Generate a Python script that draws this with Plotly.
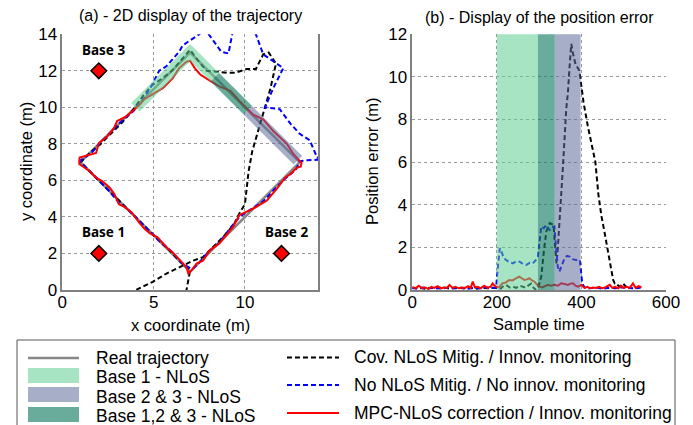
import plotly.graph_objects as go

# ---------------- data: (a) 2D trajectory ----------------
real_x = [7, 1, 7, 13, 7]
real_y = [1, 7, 13, 7, 1]

mpc_x = [7.1, 6.9, 6.8, 6.4, 6.05, 5.8, 5.5, 5.2, 4.8, 4.5, 4.2, 3.8, 3.4, 3.1, 2.85, 2.6, 2.2, 1.85, 1.5, 1.3, 0.93, 0.93,
         0.95, 1.3, 1.85, 2.0, 2.5, 2.85, 3.0, 3.5, 3.85, 4.2, 4.5, 4.95, 5.5, 6.05, 6.4, 6.8, 7.0,
         7.25, 7.55, 8.1, 8.6, 9.2, 9.7, 10.45, 11.0, 11.55, 12.3, 12.65, 12.9, 13.1, 13.05,
         12.85, 12.5, 12.2, 11.75, 11.2, 10.45, 9.7, 9.35, 8.6, 8.1, 7.7, 7.35, 7.1]
mpc_y = [1.1, 0.9, 1.25, 1.7, 2.05, 2.25, 2.55, 2.9, 3.1, 3.35, 3.7, 4.25, 4.55, 4.7, 5.25, 5.6, 5.95, 6.15, 6.5, 6.65, 6.9, 7.08,
         7.25, 7.35, 7.5, 8.05, 8.45, 8.9, 9.25, 9.5, 9.8, 10.1, 10.45, 10.7, 11.05, 11.6, 12.15, 12.5, 12.55,
         12.15, 11.8, 11.45, 11.15, 10.9, 10.35, 9.6, 9.35, 8.7, 8.0, 7.45, 7.2, 6.95, 6.75,
         6.7, 6.35, 6.15, 5.55, 4.9, 4.45, 4.1, 3.45, 2.55, 2.2, 1.6, 1.45, 1.1]

nomit_x = [7.0, 6.5, 6.0, 5.4, 4.9, 4.3, 3.7, 3.0, 2.4, 1.8, 1.2, 1.0, 1.6, 2.1, 2.7, 3.3, 3.9, 4.4, 4.9, 5.3, 5.7,
           6.4, 6.6, 7.5, 7.8, 8.7, 9.1, 9.3, 9.5, 10.4, 10.6, 11.0, 12.1, 11.55, 11.1, 11.9, 12.5, 13.0, 13.55,
           13.95, 14.4, 14.4, 13.4, 13.0, 12.8, 12.2, 11.6, 11.0, 10.3, 9.7, 9.2, 8.6, 8.0, 7.5, 7.1]
nomit_y = [1.2, 1.5, 2.1, 2.6, 3.1, 3.7, 4.3, 4.9, 5.6, 6.2, 6.8, 7.1, 7.5, 8.1, 8.7, 9.3, 9.8, 10.4, 11.2, 12.0, 12.25,
           13.05, 13.4, 14.0, 14.3, 13.05, 12.95, 14.0, 14.4, 14.4, 14.0, 12.9, 12.15, 11.05, 10.0, 9.9, 9.1, 8.55, 8.2,
           7.25, 7.25, 7.15, 7.1, 7.05, 6.6, 6.1, 5.5, 4.85, 4.4, 4.0, 3.4, 2.6, 2.1, 1.5, 1.1]

cov_x = [6.8, 6.8, 6.9, 7.0, 6.4, 5.8, 5.1, 4.5, 3.9, 3.3, 2.6, 2.0, 1.4, 1.0, 1.5, 2.1, 2.7, 3.3, 3.9, 4.4, 4.9,
         5.5, 6.0, 6.5, 7.0, 7.4, 7.9, 8.5, 9.0, 9.5, 10.1, 10.6, 11.0, 11.3, 11.7, 11.4, 11.2, 10.8, 10.4, 10.2,
         10.1, 10.0, 9.7, 9.4, 8.8, 8.25, 7.7, 7.15, 6.4, 5.7, 4.95, 4.0, 3.0]
cov_y = [-1.0, 0.0, 0.55, 1.1, 1.6, 2.25, 2.9, 3.5, 4.1, 4.7, 5.4, 6.0, 6.6, 7.0, 7.5, 8.0, 8.6, 9.2, 9.9, 10.6, 11.2,
         11.6, 12.0, 12.6, 13.15, 12.6, 12.0, 11.95, 11.9, 11.9, 12.1, 12.1, 12.9, 13.0, 12.4, 11.05, 10.35, 8.9, 7.6, 6.5,
         5.45, 4.7, 4.2, 3.6, 2.9, 2.35, 1.8, 1.6, 1.25, 0.9, 0.45, 0.0, -0.5]

band1_x = [4.0, 7.0, 8.35]
band1_y = [10.0, 13.0, 11.65]
band123_x = [8.35, 10.15]
band123_y = [11.65, 9.85]
band23_x = [10.15, 12.9]
band23_y = [9.85, 7.1]

bases_x = [2, 12, 2]
bases_y = [2, 2, 12]
bases_txt = ["Base 1", "Base 2", "Base 3"]

# ---------------- data: (b) position error ----------------
mpc_t = [0, 8, 15, 22, 30, 38, 45, 52, 60, 68, 75, 82, 88, 95, 102, 110, 118, 125, 132, 138, 143, 148, 155, 162,
         170, 178, 185, 190, 197, 205, 213, 221, 229, 237, 245, 253, 259, 265, 271, 277, 283, 289, 295, 301, 307,
         313, 321, 328, 336, 344, 352, 360, 368, 374, 380, 386, 392, 400, 407, 414, 421, 428, 435, 442, 449, 456,
         462, 467, 473, 480, 487, 494, 500, 507, 514, 522, 528, 535, 542]
mpc_e = [0.15, 0.08, 0.2, 0.1, 0.12, 0.05, 0.15, 0.1, 0.18, 0.08, 0.12, 0.1, 0.24, 0.1, 0.15, 0.08, 0.12, 0.1, 0.18,
         0.1, 0.39, 0.12, 0.15, 0.08, 0.2, 0.1, 0.15, 0.31, 0.16, 0.12, 0.31, 0.35, 0.47, 0.45, 0.55, 0.63, 0.55,
         0.47, 0.5, 0.55, 0.45, 0.39, 0.25, 0.16, 0.12, 0.16, 0.24, 0.2, 0.24, 0.2, 0.31, 0.28, 0.24, 0.3, 0.31,
         0.2, 0.16, 0.24, 0.1, 0.15, 0.08, 0.12, 0.1, 0.15, 0.08, 0.12, 0.18, 0.24, 0.1, 0.15, 0.08, 0.2, 0.1,
         0.15, 0.1, 0.31, 0.1, 0.18, 0.12]

nomit_t = [0, 12, 25, 40, 55, 70, 85, 100, 115, 130, 145, 160, 175, 190, 198, 203, 207, 212, 216, 222, 230, 238,
           246, 254, 262, 270, 278, 285, 292, 297, 301, 305, 311, 317, 321, 325, 330, 336, 340, 344, 348, 354, 360,
           366, 372, 378, 384, 390, 396, 399, 402, 408, 420, 435, 450, 465, 480, 495, 510, 525, 540]
nomit_e = [0.1, 0.05, 0.12, 0.08, 0.1, 0.06, 0.12, 0.08, 0.1, 0.05, 0.1, 0.08, 0.12, 0.1, 0.1, 1.2, 1.96, 1.75, 1.5,
           1.41, 1.3, 1.25, 1.35, 1.33, 1.22, 1.18, 1.28, 1.25, 1.4, 1.57, 2.2, 2.98, 2.9, 3.06, 2.9, 2.82, 2.95,
           2.98, 2.0, 1.1, 0.86, 1.2, 1.49, 1.6, 1.57, 1.45, 1.41, 1.4, 1.41, 0.9, 0.3, 0.1, 0.08, 0.12, 0.06, 0.1,
           0.08, 0.12, 0.1, 0.08, 0.1]

cov_t = [0, 15, 30, 45, 60, 75, 90, 105, 120, 135, 150, 165, 180, 195, 205, 210, 216, 222, 230, 238, 246, 254, 261,
         268, 275, 281, 287, 293, 299, 305, 311, 317, 325, 334, 338, 341, 344, 350, 356, 364, 368, 372, 376, 380,
         386, 395, 405, 415, 425, 433, 440, 447, 455, 461, 467, 471, 475, 479, 483, 487, 491, 495, 499, 503, 507, 511]
cov_e = [0.08, 0.1, 0.06, 0.1, 0.08, 0.12, 0.06, 0.1, 0.08, 0.1, 0.06, 0.1, 0.08, 0.1, 0.05, 0.08, 0.2, 0.24, 0.12,
         0.16, 0.1, 0.2, 0.16, 0.1, 0.22, 0.3, 0.1, 0.0, 0.2, 0.63, 1.8, 2.75, 3.14, 3.06, 2.0, 1.25, 1.9, 3.6,
         5.7, 8.47, 9.25, 10.5, 11.55, 11.1, 10.6, 10.3, 8.8, 7.7, 6.8, 6.0, 4.5, 3.5, 2.67, 2.0, 1.41, 0.9, 0.47,
         0.3, 0.3, 0.2, 0.16, 0.25, 0.3, 0.2, 0.16, 0.1]

nlos_b1 = [200, 297]
nlos_b123 = [297, 337]
nlos_b23 = [337, 398]

x_ticks_a = [0, 5, 10]
y_ticks_a = [0, 2, 4, 6, 8, 10, 12, 14]
x_ticks_b = [0, 200, 400, 600]
y_ticks_b = [0, 2, 4, 6, 8, 10, 12]

legend_left = ["Real trajectory", "Base 1 - NLoS", "Base 2 & 3 - NLoS", "Base 1,2 & 3 - NLoS"]
legend_right = ["Cov. NLoS Mitig. / Innov. monitoring", "No NLoS Mitig. / No innov. monitoring",
                "MPC-NLoS correction / Innov. monitoring"]

# ---------------- styles ----------------
W, H = 693, 425
FONT = "Liberation Sans, Arial, sans-serif"
C_GREEN = "rgba(93,206,148,0.55)"
C_BLUE = "rgba(92,108,155,0.55)"
C_TEAL = "rgba(26,127,103,0.65)"
C_REAL = "rgb(135,135,135)"
DASH = "5px,3px"


def px(x):
    return x / W


def py(y):
    return 1 - y / H


fig = go.Figure()

# ---- left panel ----
fig.add_trace(go.Scatter(x=real_x, y=real_y, mode="lines", line=dict(color=C_REAL, width=2.5),
                         xaxis="x", yaxis="y", name="Real trajectory"))
fig.add_trace(go.Scatter(x=cov_x, y=cov_y, mode="lines", line=dict(color="black", width=2, dash=DASH),
                         xaxis="x", yaxis="y", name="Cov. NLoS Mitig."))
fig.add_trace(go.Scatter(x=nomit_x, y=nomit_y, mode="lines", line=dict(color="blue", width=2, dash=DASH),
                         xaxis="x", yaxis="y", name="No NLoS Mitig."))
fig.add_trace(go.Scatter(x=mpc_x, y=mpc_y, mode="lines", line=dict(color="red", width=2),
                         xaxis="x", yaxis="y", name="MPC-NLoS"))
fig.add_trace(go.Scatter(x=band1_x, y=band1_y, mode="lines", line=dict(color=C_GREEN, width=12),
                         xaxis="x", yaxis="y", name="Base 1 - NLoS"))
fig.add_trace(go.Scatter(x=band123_x, y=band123_y, mode="lines", line=dict(color=C_TEAL, width=12),
                         xaxis="x", yaxis="y", name="Base 1,2 & 3 - NLoS"))
fig.add_trace(go.Scatter(x=band23_x, y=band23_y, mode="lines", line=dict(color=C_BLUE, width=12),
                         xaxis="x", yaxis="y", name="Base 2 & 3 - NLoS"))
fig.add_trace(go.Scatter(x=bases_x, y=bases_y, mode="markers",
                         marker=dict(symbol="diamond", size=12, color="red", line=dict(color="black", width=1.5)),
                         xaxis="x", yaxis="y", name="Bases"))
for bx, by, bt in zip(bases_x, bases_y, bases_txt):
    fig.add_annotation(x=bx + 0.25, y=by + 1.15, xref="x", yref="y", text="<b>%s</b>" % bt, showarrow=False,
                       font=dict(family="Noto Sans, sans-serif", size=13.5, color="black"))

# ---- right panel ----
fig.add_trace(go.Scatter(x=cov_t, y=cov_e, mode="lines", line=dict(color="black", width=2, dash=DASH),
                         xaxis="x2", yaxis="y2", name="Cov. NLoS Mitig."))
fig.add_trace(go.Scatter(x=nomit_t, y=nomit_e, mode="lines", line=dict(color="blue", width=2, dash=DASH),
                         xaxis="x2", yaxis="y2", name="No NLoS Mitig."))
fig.add_trace(go.Scatter(x=mpc_t, y=mpc_e, mode="lines", line=dict(color="red", width=2),
                         xaxis="x2", yaxis="y2", name="MPC-NLoS"))
for (a, b), col in ((nlos_b1, C_GREEN), (nlos_b123, C_TEAL), (nlos_b23, C_BLUE)):
    fig.add_shape(type="rect", xref="x2", yref="y2 domain", x0=a, x1=b, y0=0, y1=1,
                  fillcolor=col, line=dict(width=0), layer="above")

# ---- axes ----
ydom = [py(290), py(34.3)]
axis_common = dict(showgrid=True, gridcolor="#9a9a9a", griddash="dot", gridwidth=1, showline=True,
                   linecolor="#808080", linewidth=1.5, zeroline=False, ticks="", automargin=False,
                   tickfont=dict(family=FONT, size=17, color="black"))
fig.update_layout(
    width=W, height=H, margin=dict(l=0, r=0, t=0, b=0, pad=0, autoexpand=False),
    paper_bgcolor="white", plot_bgcolor="white", showlegend=False,
    font=dict(family=FONT, color="black"),
    xaxis=dict(domain=[px(62.3), px(318)], range=[0, 14], tickvals=x_ticks_a, anchor="y",
               ticklabelstandoff=-4, **axis_common),
    yaxis=dict(domain=ydom, range=[0, 14], tickvals=y_ticks_a, anchor="x", mirror=True, **axis_common),
    xaxis2=dict(domain=[px(412.3), px(666)], range=[0, 600], tickvals=x_ticks_b, anchor="y2",
                ticklabelstandoff=-4, **axis_common),
    yaxis2=dict(domain=ydom, range=[0, 12], tickvals=y_ticks_b, anchor="x2", **axis_common),
)

# ---- titles ----
def ann(x, y, text, size, angle=0, xanchor="center"):
    fig.add_annotation(x=px(x), y=py(y), xref="paper", yref="paper", text=text, showarrow=False,
                       textangle=angle, xanchor=xanchor, yanchor="middle",
                       font=dict(family=FONT, size=size, color="black"))

ann(190, 16, "(a) - 2D display of the trajectory", 16)
ann(539, 17, "(b) - Display of the position error", 16)
ann(190, 325, "x coordinate (m)", 16.5)
ann(539, 324, "Sample time", 16.5)
ann(26, 162, "y coordinate (m)", 16.5, angle=-90)
ann(372, 162, "Position error (m)", 16.5, angle=-90)

# ---- manual legend ----
fig.add_shape(type="rect", xref="paper", yref="paper", x0=px(17), x1=px(675), y0=py(440), y1=py(340),
              line=dict(color="#555555", width=1), fillcolor="white", layer="above")
fig.add_shape(type="line", xref="paper", yref="paper", x0=px(28), x1=px(79), y0=py(358), y1=py(358),
              line=dict(color=C_REAL, width=2.5), layer="above")
for (y0, y1), col in (((368, 383), C_GREEN), ((387, 402), C_BLUE), ((407, 422), C_TEAL)):
    fig.add_shape(type="rect", xref="paper", yref="paper", x0=px(28), x1=px(79), y0=py(y1), y1=py(y0),
                  fillcolor=col, line=dict(width=0), layer="above")
for txt, yc in zip(legend_left, [357.5, 377, 396.5, 415.5]):
    ann(94, yc, txt, 17.5, xanchor="left")
for (col, dash), yc in zip([("black", DASH), ("blue", DASH), ("red", "solid")], [357.5, 385, 413]):
    fig.add_shape(type="line", xref="paper", yref="paper", x0=px(287), x1=px(339), y0=py(yc), y1=py(yc),
                  line=dict(color=col, width=2, dash=dash), layer="above")
for txt, yc in zip(legend_right, [357, 385, 413]):
    ann(352, yc, txt, 17.5, xanchor="left")

fig.write_html("out.html")
